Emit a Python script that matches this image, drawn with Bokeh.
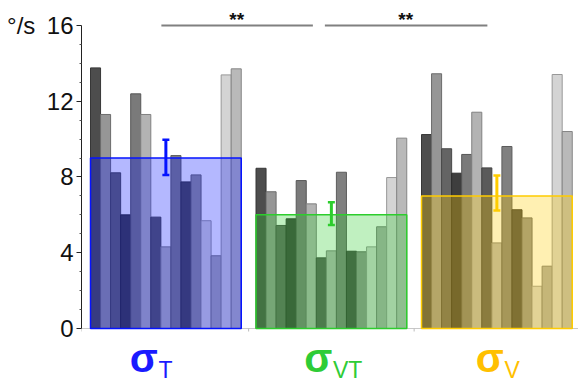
from bokeh.plotting import figure
from bokeh.models import FixedTicker, ColumnDataSource
from bokeh.core.properties import value
from bokeh.embed import file_html
from bokeh.resources import INLINE

# ---------------- data ----------------
groups = ["T", "VT", "V"]
vals_T = [13.76, 11.30, 8.22, 6.00, 12.39, 11.30, 5.88, 4.31, 9.13, 7.74, 8.11, 5.69, 3.84, 13.39, 13.71]
vals_VT = [8.46, 7.22, 5.44, 5.79, 7.81, 6.58, 3.73, 4.10, 8.25, 4.08, 4.05, 4.31, 5.37, 7.97, 10.05]
vals_V = [10.24, 13.45, 9.49, 8.20, 9.19, 11.42, 8.48, 4.52, 9.61, 6.27, 5.84, 2.23, 3.29, 13.41, 10.40]
means = [9.0, 6.0, 7.0]
err_lo = [8.11, 5.47, 6.23]
err_hi = [9.96, 6.67, 8.08]
subject_grays = ["#4d4d4d", "#969696", "#646464", "#3e3e3e", "#7a7a7a", "#b3b3b3", "#5a5a5a", "#b6b6b6",
                 "#808080", "#4a4a4a", "#939393", "#d6d6d6", "#adadad", "#d4d4d4", "#b9b9b9"]
group_colors = ["#0513ff", "#2dcd2d", "#ffcc00"]
label_colors = ["#1a1aff", "#2ecc36", "#ffc000"]
y_ticks = [0, 4, 8, 12, 16]
y_unit = "°/s"
sig_text = ["**", "**"]

# ---------------- layout constants ----------------
W, H = 578, 379
left_px = 81
top_px = 6
zero_px = 328
px_per_unit = 18.94
bar_w = 10.05
n = 15
g_start = [90.0, 255.5, 421.0]
ymax = (zero_px - top_px) / px_per_unit
ymin = -(H - zero_px) / px_per_unit

all_vals = [vals_T, vals_VT, vals_V]


def darker(hexc, f=0.72):
    v = int(hexc[1:3], 16)
    d = int(v * f)
    return "#%02x%02x%02x" % (d, d, d)


p = figure(width=W, height=H, x_range=(left_px, W), y_range=(ymin, ymax),
           output_backend="svg", toolbar_location=None, x_axis_location=None,
           min_border_left=left_px, min_border_right=0, min_border_top=top_px,
           min_border_bottom=0)
p.outline_line_color = None
p.grid.visible = False
p.background_fill_color = "white"

# x baseline and group separators
p.segment(x0=[left_px], x1=[W], y0=[0], y1=[0], line_color="#c8c8c8", line_width=1)
sep_x = [(g_start[0] + n * bar_w + g_start[1]) / 2, (g_start[1] + n * bar_w + g_start[2]) / 2]
tick_len = 3 / px_per_unit
p.segment(x0=[left_px] + sep_x, x1=[left_px] + sep_x, y0=[0] * 3, y1=[-tick_len] * 3,
          line_color="#bbbbbb", line_width=1)

# gray subject bars
L, R, T, C, LC = [], [], [], [], []
for g, vals in enumerate(all_vals):
    for i, v in enumerate(vals):
        L.append(g_start[g] + i * bar_w)
        R.append(g_start[g] + (i + 1) * bar_w)
        T.append(v)
        C.append(subject_grays[i])
        LC.append(darker(subject_grays[i]))
src = ColumnDataSource(dict(left=L, right=R, top=T, bottom=[0] * len(T), fill=C, line=LC))
p.quad(left="left", right="right", top="top", bottom="bottom", source=src,
       fill_color="fill", line_color="line", line_width=1)

# mean rectangles
ml = [g_start[g] for g in range(3)]
mr = [g_start[g] + n * bar_w for g in range(3)]
p.quad(left=ml, right=mr, top=means, bottom=[0, 0, 0], fill_color=group_colors,
       fill_alpha=0.3, line_color=group_colors, line_width=1.5)

# error bars
cx = [g_start[g] + n * bar_w / 2 for g in range(3)]
cap = 3.5
p.segment(x0=cx, x1=cx, y0=err_lo, y1=err_hi, line_color=group_colors, line_width=3)
p.segment(x0=[c - cap for c in cx], x1=[c + cap for c in cx], y0=err_lo, y1=err_lo,
          line_color=group_colors, line_width=2.5)
p.segment(x0=[c - cap for c in cx], x1=[c + cap for c in cx], y0=err_hi, y1=err_hi,
          line_color=group_colors, line_width=2.5)

# significance lines
sx0 = [cx[0] - 4.5, cx[1] - 6.5]
sx1 = [cx[1] - 18.5, cx[2] - 9.5]
p.segment(x0=sx0, x1=sx1, y0=[16, 16], y1=[16, 16], line_color="#808080", line_width=2)
p.text(x=[(a + b) / 2 - 0.5 for a, b in zip(sx0, sx1)], y=[16.33, 16.33], text=sig_text,
       text_align="center", text_baseline="alphabetic", text_font=value("Liberation Sans"),
       text_font_style="bold", text_font_size="19px", text_color="#111111")

# y axis
p.yaxis.ticker = FixedTicker(ticks=y_ticks, minor_ticks=[v for v in range(1, 16) if v % 4])
p.yaxis.bounds = (0, 16)
p.yaxis.axis_line_color = "#222222"
p.yaxis.axis_line_width = 1
p.yaxis.major_tick_line_color = "#222222"
p.yaxis.major_tick_out = 5
p.yaxis.major_tick_in = 0
p.yaxis.minor_tick_line_color = "#555555"
p.yaxis.minor_tick_out = 2
p.yaxis.minor_tick_in = 0
p.yaxis.major_label_standoff = 3
p.yaxis.major_label_text_font = "Liberation Sans"
p.yaxis.major_label_text_font_size = "24px"
p.yaxis.major_label_text_color = "#111111"
top_tick = y_ticks[-1]
p.yaxis.major_label_overrides = {top_tick: y_unit + "\u00a0\u2009" + str(top_tick)}

# group labels (sigma + subscript)
junction = [cx[0] - 8, cx[1] + 1, cx[2] + 7]
p.text(x=junction, y=[-1.55] * 3, text=["σ"] * 3, text_align="right", text_baseline="alphabetic",
       text_font=value("Liberation Sans"), text_font_style="bold", text_font_size="41px",
       text_color=label_colors)
p.text(x=[j + 0.5 for j in junction], y=[-2.2] * 3, text=groups, text_align="left",
       text_baseline="alphabetic", text_font=value("Liberation Sans"), text_font_size="23px",
       text_color=label_colors)

open("out.html", "w").write(file_html(p, INLINE))
